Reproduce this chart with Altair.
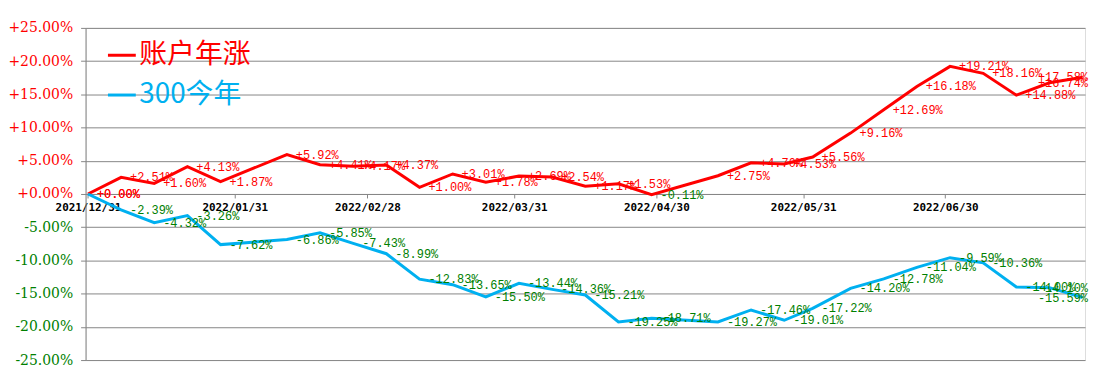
import altair as alt
import pandas as pd

# ---------------- data ----------------
dates = ["2021-12-31", "2022-01-07", "2022-01-14", "2022-01-21", "2022-01-28",
         "2022-02-11", "2022-02-18", "2022-02-25", "2022-03-04", "2022-03-11",
         "2022-03-18", "2022-03-25", "2022-04-01", "2022-04-08", "2022-04-15",
         "2022-04-22", "2022-04-29", "2022-05-13", "2022-05-20", "2022-05-27",
         "2022-06-02", "2022-06-10", "2022-06-17", "2022-06-24", "2022-07-01",
         "2022-07-08", "2022-07-15", "2022-07-22", "2022-07-29"]
account = [0.00, 2.51, 1.60, 4.13, 1.87, 5.92, 4.41, 4.17, 4.37, 1.00,
           3.01, 1.78, 2.69, 2.54, 1.17, 1.53, -0.11, 2.75, 4.70, 4.53,
           5.56, 9.16, 12.69, 16.18, 19.21, 18.16, 14.88, 16.74, 17.58]
hs300 = [0.00, -2.39, -4.32, -3.26, -7.62, -6.86, -5.85, -7.43, -8.99, -12.83,
         -13.65, -15.50, -13.44, -14.36, -15.21, -19.25, -18.71, -19.27, -17.46, -19.01,
         -17.22, -14.20, -12.78, -11.04, -9.59, -10.36, -14.00, -14.10, -15.59]
series_names = ["账户年涨", "300今年"]
series_colors = ["#FF0000", "#00B0F0"]
tick_dates = ["2021-12-31", "2022-01-31", "2022-02-28", "2022-03-31",
              "2022-04-30", "2022-05-31", "2022-06-30"]
y_ticks = [-25, -20, -15, -10, -5, 0, 5, 10, 15, 20, 25]

# ---------------- table ----------------
base = pd.Timestamp(dates[0])
day = [(pd.Timestamp(d) - base).days for d in dates]
tick_days = [(pd.Timestamp(d) - base).days for d in tick_dates]
last_day = max(day)

rows = []
for name, vals in zip(series_names, [account, hs300]):
    for d, v in zip(day, vals):
        rows.append({"series": name, "day": d, "value": v})
df = pd.DataFrame(rows)

W, H = 1005, 334
GRAY = "#868686"
date_expr = (f"timeFormat(datetime({base.year},{base.month - 1},{base.day}+datum.value),"
             f"'%Y/%m/%d')")

x_enc = alt.X("day:Q",
              scale=alt.Scale(domain=[-0.5, last_day + 0.5], nice=False, zero=False),
              axis=alt.Axis(values=tick_days, tickCount=len(tick_days) + 2,
                            labelExpr=date_expr, title=None,
                            grid=False, offset=-H / 2, domainColor=GRAY, tickColor=GRAY,
                            tickSize=4, labelFont="DejaVu Sans Mono", labelFontWeight="bold",
                            labelFontSize=11, labelColor="#000000", labelPadding=4,
                            labelFlush=False, labelOverlap=False))
y_enc = alt.Y("value:Q",
              scale=alt.Scale(domain=[-25, 25], nice=False),
              axis=alt.Axis(values=y_ticks, tickCount=len(y_ticks) + 2, title=None,
                            labelExpr="(datum.value < 0 ? '-' : '+') + format(abs(datum.value), '.2f') + '%'",
                            labelColor={"expr": "datum.value < 0 ? '#008000' : '#FF0000'"},
                            labelFont="DejaVu Serif", labelFontSize=14, labelPadding=8,
                            labelOverlap=False, labelFlush=False,
                            tickSize=5, tickColor=GRAY, domainColor=GRAY,
                            gridColor=GRAY, gridOpacity=1))

lines = alt.Chart(df).mark_line(strokeWidth=3).encode(
    x=x_enc,
    y=y_enc,
    color=alt.Color("series:N",
                    scale=alt.Scale(domain=series_names, range=series_colors),
                    sort=series_names,
                    legend=alt.Legend(orient="none", legendX=21, legendY=12, title=None,
                                      labelFont="Noto Sans CJK SC", labelFontSize=28,
                                      labelColor={"expr": "datum.label == '账户年涨' ? '#FF0000' : '#00B0F0'"},
                                      symbolType="stroke", symbolStrokeWidth=3,
                                      symbolSize=784, labelOffset=2, rowPadding=10,
                                      padding=0, labelLimit=400)),
    detail="series:N",
)

label_calc = "(datum.value < 0 ? '-' : '+') + format(abs(datum.value), '.2f') + '%'"
label_color = alt.condition("datum.value < 0", alt.value("#008000"), alt.value("#FF0000"))

labels_main = alt.Chart(df).transform_filter(
    f"datum.day < {last_day - 7}"
).transform_calculate(lab=label_calc).mark_text(
    align="left", baseline="middle", dx=9, font="Liberation Mono", fontSize=12
).encode(x="day:Q", y="value:Q", text="lab:N", color=label_color)

labels_end = alt.Chart(df).transform_filter(
    f"datum.day >= {last_day - 7}"
).transform_calculate(lab=label_calc).mark_text(
    align="right", baseline="middle", font="Liberation Mono", fontSize=12
).encode(x=alt.value(W + 3), y="value:Q", text="lab:N", color=label_color)

chart = alt.layer(lines, labels_main, labels_end).properties(
    width=W, height=H,
    autosize=alt.AutoSizeParams(type="none"),
    padding={"left": 78, "top": 19, "right": 5, "bottom": 12},
).configure_view(stroke=GRAY, strokeWidth=1).configure(background="#FFFFFF")

chart.save("out.html", embed_options={"renderer": "svg", "actions": False})
